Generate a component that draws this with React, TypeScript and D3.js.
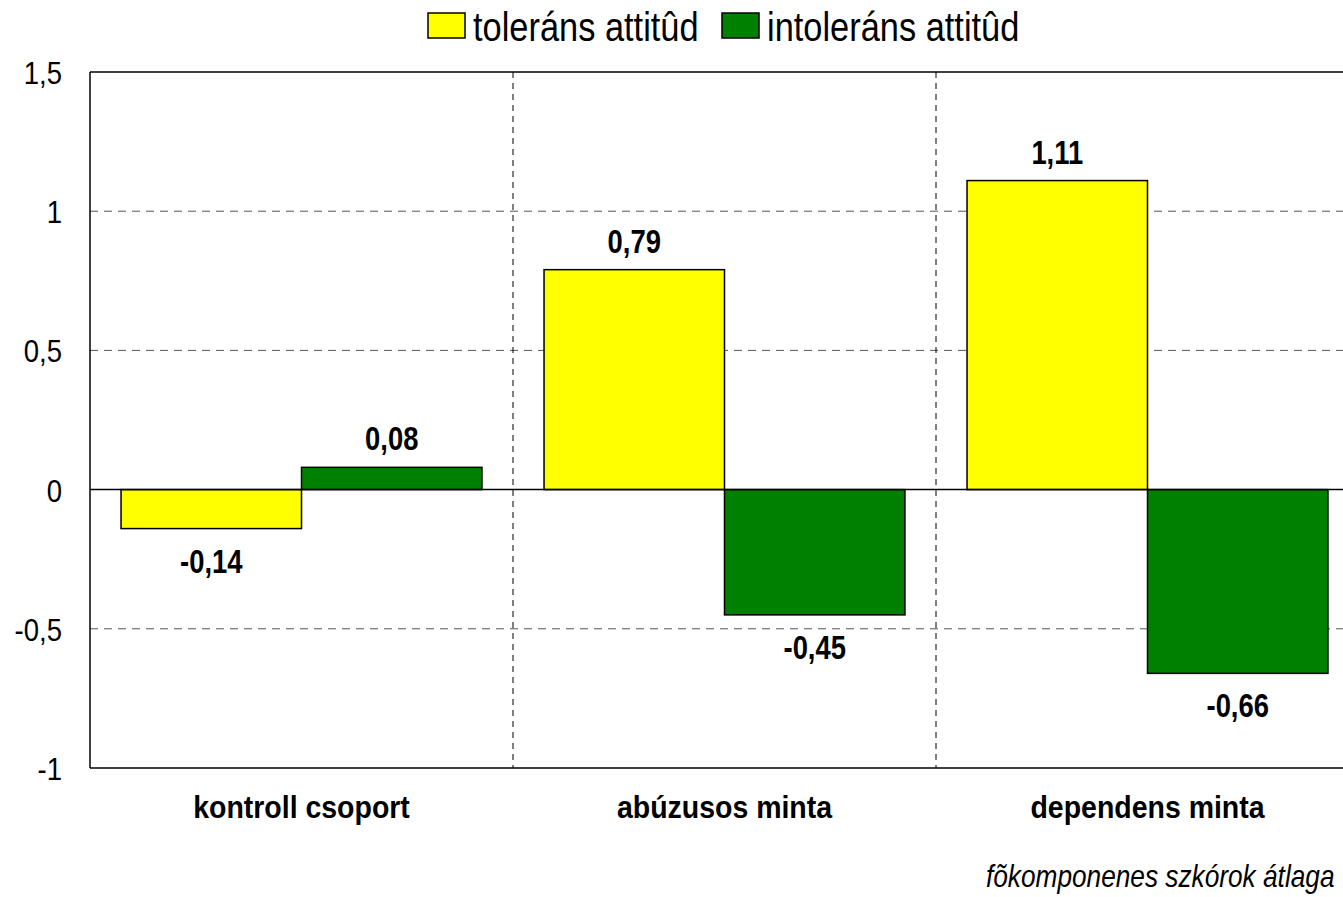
import React from "react";
import * as d3 from "d3";

const categories = ["kontroll csoport", "abúzusos minta", "dependens minta"];
const seriesNames = ["toleráns attitûd", "intoleráns attitûd"];
const tolerans = [-0.14, 0.79, 1.11];
const intolerans = [0.08, -0.45, -0.66];
const yTicks = [-1, -0.5, 0, 0.5, 1, 1.5];
const colors = ["#ffff00", "#008000"];
const footnote = "fõkomponenes szkórok átlaga";

const FONT = "'Liberation Sans', Arial, sans-serif";

function NText(props: { x: number; y: number; s: number; size: number; anchor?: string; bold?: boolean; italic?: boolean; children: React.ReactNode }) {
  const { x, y, s, size, anchor, bold, italic, children } = props;
  return (
    <text transform={`translate(${x},${y}) scale(${s},1)`} textAnchor={anchor || "start"} fontFamily={FONT}
      fontWeight={bold ? "bold" : "normal"} fontStyle={italic ? "italic" : "normal"} fontSize={size} fill="#000">
      {children}
    </text>
  );
}

export default function App() {
  const W = 1343, H = 897;
  const left = 90, top = 72, bottom = 768, right = 1359;
  const x = d3.scaleBand<string>().domain(categories).range([left, right]).paddingInner(0).paddingOuter(0);
  const inner = d3.scaleBand<string>().domain(seriesNames).range([0, x.bandwidth()]).paddingOuter(0.172).paddingInner(0);
  const y = d3.scaleLinear().domain([-1, 1.5]).range([bottom, top]);
  const fmt = (v: number) => String(v).replace(".", ",");
  const series = [tolerans, intolerans];

  return (
    <svg width={W} height={H} style={{ position: "absolute", left: 0, top: 0, background: "#fff" }}>
      <rect x={0} y={0} width={W} height={H} fill="#fff" />
      {yTicks.filter(t => t !== 0 && t !== -1 && t !== 1.5).map(t => (
        <line key={t} x1={left} x2={W} y1={y(t)} y2={y(t)} stroke="#555" strokeWidth={1} strokeDasharray="8,6" />
      ))}
      {categories.slice(1).map(c => (
        <line key={c} x1={x(c)!} x2={x(c)!} y1={top} y2={bottom} stroke="#000" strokeWidth={1} strokeDasharray="6,5" />
      ))}
      {series.map((vals, si) =>
        categories.map((c, ci) => {
          const v = vals[ci];
          const bx = x(c)! + inner(seriesNames[si])!;
          const y0 = y(0), y1 = y(v);
          return (
            <rect key={si + "-" + ci} x={bx} y={Math.min(y0, y1)} width={inner.bandwidth()} height={Math.abs(y1 - y0)}
              fill={colors[si]} stroke="#000" strokeWidth={1.5} />
          );
        })
      )}
      <line x1={left} x2={W} y1={y(0)} y2={y(0)} stroke="#000" strokeWidth={1.5} />
      <line x1={left} x2={W} y1={top} y2={top} stroke="#000" strokeWidth={1.5} />
      <line x1={left} x2={W} y1={bottom} y2={bottom} stroke="#000" strokeWidth={1.5} />
      <line x1={left} x2={left} y1={top} y2={bottom} stroke="#000" strokeWidth={1.5} />
      {series.map((vals, si) =>
        categories.map((c, ci) => {
          const v = vals[ci];
          const cx = x(c)! + inner(seriesNames[si])! + inner.bandwidth() / 2;
          const ty = v >= 0 ? y(v) - 17 : y(v) + 44;
          return (
            <NText key={"l" + si + ci} x={cx} y={ty} s={0.83} size={33} anchor="middle" bold>
              {fmt(v)}
            </NText>
          );
        })
      )}
      {yTicks.map(t => (
        <NText key={"t" + t} x={62} y={y(t) + 12} s={0.86} size={32} anchor="end">
          {fmt(t)}
        </NText>
      ))}
      {categories.map(c => (
        <NText key={"c" + c} x={x(c)! + x.bandwidth() / 2} y={818} s={0.89} size={32} anchor="middle" bold>
          {c}
        </NText>
      ))}
      <rect x={428} y={13} width={37} height={25} fill={colors[0]} stroke="#000" strokeWidth={1.5} />
      <NText x={473} y={41} s={0.86} size={40}>{seriesNames[0]}</NText>
      <rect x={722} y={13} width={37} height={25} fill={colors[1]} stroke="#000" strokeWidth={1.5} />
      <NText x={767} y={41} s={0.86} size={40}>{seriesNames[1]}</NText>
      <NText x={986} y={887} s={0.82} size={32} italic>{footnote}</NText>
    </svg>
  );
}
